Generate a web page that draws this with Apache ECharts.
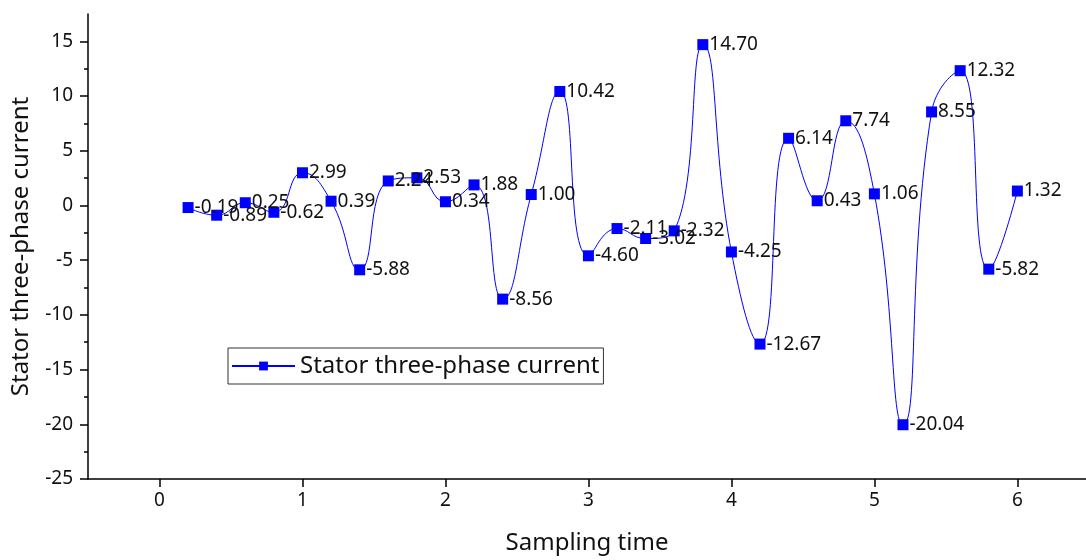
<!DOCTYPE html>
<html>
<head>
<meta charset="utf-8">
<script src="https://cdn.jsdelivr.net/npm/echarts@6/dist/echarts.min.js"></script>
<style>html,body{margin:0;padding:0;background:#fff;}#c{width:1086px;height:560px;}</style>
</head>
<body>
<div id="c"></div>
<script>
const seriesName = 'Stator three-phase current';
const xName = 'Sampling time';
const yName = 'Stator three-phase current';
const xTicks = [0,1,2,3,4,5,6];
const yTicks = [-25,-20,-15,-10,-5,0,5,10,15];
const times = [0.2,0.4,0.6,0.8,1.0,1.2,1.4,1.6,1.8,2.0,2.2,2.4,2.6,2.8,3.0,3.2,3.4,3.6,3.8,4.0,4.2,4.4,4.6,4.8,5.0,5.2,5.4,5.6,5.8,6.0];
const currents = [-0.19,-0.89,0.25,-0.62,2.99,0.39,-5.88,2.24,2.53,0.34,1.88,-8.56,1.00,10.42,-4.60,-2.11,-3.02,-2.32,14.70,-4.25,-12.67,6.14,0.43,7.74,1.06,-20.04,8.55,12.32,-5.82,1.32];

const FONT = '"Noto Sans", "Open Sans", sans-serif';
const chart = echarts.init(document.getElementById('c'), null, {renderer:'canvas'});
chart.setOption({
  animation: false,
  backgroundColor: '#fff',
  textStyle: {fontFamily: FONT},
  grid: {left: 88, top: 14, right: 0, bottom: 80, containLabel: false},
  legend: {
    show: true,
    left: 228, top: 348,
    orient: 'horizontal',
    padding: [6, 4, 6, 3],
    borderColor: '#333', borderWidth: 1,
    itemWidth: 63, itemHeight: 11, itemGap: 8,
    textStyle: {fontFamily: FONT, fontSize: 24, color: '#111'},
    data: [seriesName]
  },
  xAxis: {
    type: 'value', min: -0.5, max: 6.48, interval: 1,
    name: xName, nameLocation: 'middle', nameGap: 52,
    nameTextStyle: {fontFamily: FONT, fontSize: 24, color: '#111'},
    axisLine: {show: true, onZero: false, lineStyle: {color: '#000', width: 1.5}},
    axisTick: {show: true, inside: false, length: 8, lineStyle: {color: '#000', width: 1.5}, customValues: xTicks},
    minorTick: {show: true, splitNumber: 2, length: 4, lineStyle: {color: '#000', width: 1.5}},
    axisLabel: {show: true, margin: 12, fontFamily: FONT, fontSize: 19, color: '#111', customValues: xTicks},
    splitLine: {show: false}
  },
  yAxis: {
    type: 'value', min: -25, max: 17.5, interval: 5,
    name: yName, nameLocation: 'middle', nameGap: 55, nameRotate: 90,
    nameTextStyle: {fontFamily: FONT, fontSize: 24, color: '#111'},
    axisLine: {show: true, onZero: false, lineStyle: {color: '#000', width: 1.5}},
    axisTick: {show: true, inside: false, length: 8, lineStyle: {color: '#000', width: 1.5}, customValues: yTicks},
    minorTick: {show: true, splitNumber: 2, length: 4, lineStyle: {color: '#000', width: 1.5}},
    axisLabel: {show: true, margin: 15, fontFamily: FONT, fontSize: 19, color: '#111', customValues: yTicks},
    splitLine: {show: false}
  },
  series: [{
    name: seriesName,
    type: 'line',
    data: times.map((t, i) => [t, currents[i]]),
    smooth: 0.5,
    symbol: 'rect', symbolSize: 11,
    lineStyle: {color: '#0000ff', width: 1},
    itemStyle: {color: '#0000ff'},
    label: {
      show: true, position: 'right', distance: 1,
      fontFamily: FONT, fontSize: 19, color: '#111',
      formatter: p => p.value[1].toFixed(2)
    },
    labelLayout: {hideOverlap: false}
  }]
});
</script>
</body>
</html>
